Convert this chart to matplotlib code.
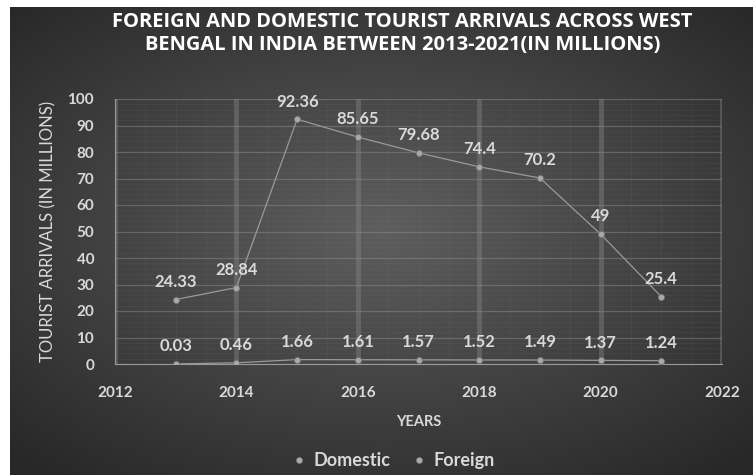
import numpy as np
import matplotlib
matplotlib.use("Agg")
import matplotlib.pyplot as plt
from matplotlib.lines import Line2D

# Tourist arrivals in West Bengal, millions
years = [2013, 2014, 2015, 2016, 2017, 2018, 2019, 2020, 2021]
domestic = [24.33, 28.84, 92.36, 85.65, 79.68, 74.4, 70.2, 49, 25.4]
foreign = [0.03, 0.46, 1.66, 1.61, 1.57, 1.52, 1.49, 1.37, 1.24]

x_ticks = [2012, 2014, 2016, 2018, 2020, 2022]
y_ticks = list(range(0, 101, 10))

TXT = "#d9d9d9"
FONT = ["Lato", "DejaVu Sans"]
TITLE_FONT = ["Open Sans", "DejaVu Sans"]

fig = plt.figure(figsize=(7.53, 4.75), dpi=100)
fig.patch.set_facecolor("white")

# dark radial gradient backdrop (white strip on left/top)
bg = fig.add_axes([10 / 753, 0, 743 / 753, 468 / 475])
bg.set_axis_off()
gx, gy = np.meshgrid(np.linspace(-1, 1, 400), np.linspace(-1, 1, 260))
r = np.sqrt((gx / 1.0) ** 2 + ((gy + 0.05) / 0.95) ** 2)
shade = 0.37 - 0.21 * np.clip(r, 0, 1.4) / 1.4
bg.imshow(np.dstack([shade] * 3), aspect="auto", extent=[0, 1, 0, 1],
          interpolation="bicubic")
bg.set_xlim(0, 1)
bg.set_ylim(0, 1)

ax = fig.add_axes([115 / 753, 1 - 364 / 475, 607 / 753, 265 / 475])
ax.set_facecolor("none")
ax.set_xlim(2012, 2022)
ax.set_ylim(0, 100)
ax.set_xticks(x_ticks)
ax.set_yticks(y_ticks)
ax.set_xticks(np.arange(2012, 2022.1, 0.5), minor=True)
ax.set_yticks(np.arange(0, 101, 2), minor=True)
ax.grid(True, which="major", axis="y", color="#8a8a8a", linewidth=0.9, alpha=0.5)
ax.grid(True, which="major", axis="x", color="#8a8a8a", linewidth=3.5, alpha=0.4)
ax.grid(True, which="minor", color="#7a7a7a", linewidth=0.4, alpha=0.2)
for side in ["top", "right"]:
    ax.spines[side].set_visible(False)
ax.spines["left"].set_color("#9a9a9a")
ax.spines["bottom"].set_color("#9a9a9a")
ax.tick_params(which="both", length=0)
ax.tick_params(axis="x", pad=16)
ax.tick_params(axis="y", pad=15)
for lab in ax.get_xticklabels() + ax.get_yticklabels():
    lab.set_color(TXT)
    lab.set_fontsize(11)
    lab.set_fontweight("bold")
    lab.set_family(FONT)

for series in (domestic, foreign):
    ax.plot(years, series, color="#9a9a9a", linewidth=0.9, marker="o",
            markersize=4.5, markerfacecolor="#a8a8a8", markeredgecolor="#707070",
            markeredgewidth=0.5, zorder=3)
    for x, v in zip(years, series):
        ax.annotate(f"{v:g}", (x, v), xytext=(0, 7), textcoords="offset points",
                    ha="center", va="bottom", color=TXT, fontsize=12,
                    fontweight="bold", family=FONT)

ax.set_ylabel("TOURIST ARRIVALS (IN MILLIONS)", color=TXT, fontsize=12,
              family=FONT, labelpad=8)
ax.set_xlabel("YEARS", color=TXT, fontsize=10.5, fontweight="bold",
              family=FONT, labelpad=11)

fig.text(0.5345, 0.954, "FOREIGN AND DOMESTIC TOURIST ARRIVALS ACROSS WEST",
         ha="center", va="center", color="white", fontsize=14.5,
         fontweight="bold", family=TITLE_FONT)
fig.text(0.5345, 0.905, "BENGAL IN INDIA BETWEEN 2013-2021(IN MILLIONS)",
         ha="center", va="center", color="white", fontsize=14.5,
         fontweight="bold", family=TITLE_FONT)

handles = [Line2D([], [], linestyle="none", marker="o", markersize=3.5,
                  markerfacecolor="#a8a8a8", markeredgecolor="#a8a8a8")
           for _ in range(2)]
leg = fig.legend(handles, ["Domestic", "Foreign"], loc="center",
                 bbox_to_anchor=(0.52, 0.03), ncol=2, frameon=False,
                 handletextpad=0.2, columnspacing=1.0, handlelength=1.2,
                 prop={"family": FONT, "size": 13, "weight": "bold"})
for t in leg.get_texts():
    t.set_color(TXT)

fig.savefig("out.png", dpi=100, facecolor=fig.get_facecolor())
